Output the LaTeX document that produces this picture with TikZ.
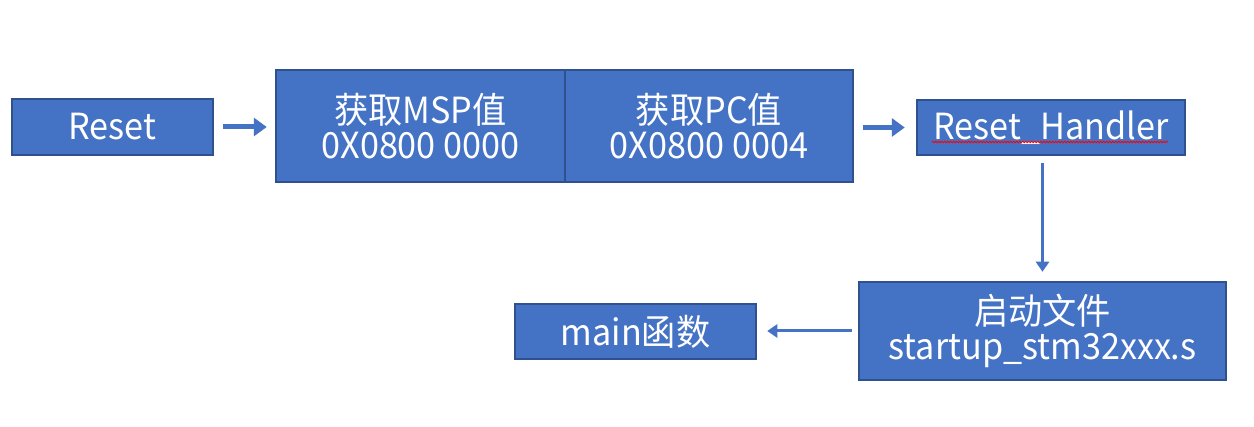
\documentclass[tikz,border=0pt]{standalone}
\usepackage{fontspec}
\newfontfamily\cjk[FakeStretch=0.95]{Noto Sans CJK SC}
\usetikzlibrary{arrows.meta,decorations.pathmorphing}
\definecolor{boxfill}{HTML}{4472C4}
\definecolor{boxline}{HTML}{2F528F}
\definecolor{arr}{HTML}{4472C4}
\begin{document}
\begin{tikzpicture}[x=1pt,y=-1pt,
  blk/.style={draw=boxline,fill=boxfill,line width=2.5pt,text=white,inner sep=0pt,
    font=\cjk\fontsize{36}{35}\selectfont,align=center},
  bigarrow/.style={draw=arr,line width=5pt,-{Triangle[length=13pt,width=18pt]}},
  thinarrow/.style={draw=arr,line width=3pt,-{Triangle[length=10pt,width=13pt]}}]
\fill[white] (0,0) rectangle (1254,427);
\useasboundingbox (0,0) rectangle (1254,427);
\node[blk,minimum width=201pt,minimum height=56pt] (reset) at (112.5,127) {Reset};
\node[blk,minimum width=289pt,minimum height=112pt] (msp) at (420.5,126) {获取MSP值\\0X0800 0000};
\node[blk,minimum width=288pt,minimum height=112pt] (pc) at (709,126) {获取PC值\\0X0800 0004};
\node[blk,minimum width=268pt,minimum height=55pt] (rh) at (1051,127.5) {Reset\_Handler};
\node[blk,minimum width=367pt,minimum height=98pt] (st) at (1042.5,331) {启动文件\\startup\_stm32xxx.s};
\node[blk,minimum width=241pt,minimum height=55pt] (mn) at (635.5,331.5) {main函数};
\draw[bigarrow,shorten <=9pt,shorten >=8pt] (reset.east) -- (reset.east -| msp.west);
\draw[bigarrow,shorten <=9pt,shorten >=11pt] (pc.east |- rh.west) -- (rh.west);
\draw[thinarrow,shorten <=7pt,shorten >=9pt] (rh.south -| st.north) -- (st.north);
\draw[thinarrow,shorten <=6pt,shorten >=10pt] (st.west) -- (st.west -| mn.east);
\coordinate (w1) at (932,142);
\coordinate (w2) at (1168,142);
\draw[red,line width=0.8pt,decorate,decoration={zigzag,amplitude=0.8pt,segment length=3pt}] (w1) -- (w2);
\end{tikzpicture}
\end{document}
